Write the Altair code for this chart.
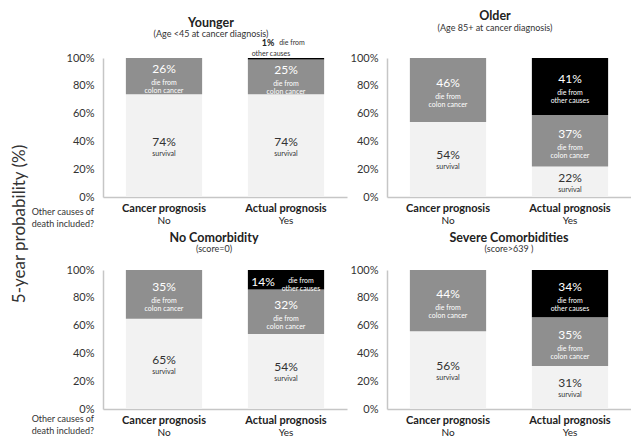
import altair as alt
import pandas as pd

# ---------------- data ----------------
panel_titles = ["Younger", "Older", "No Comorbidity", "Severe Comorbidities"]
panel_subtitles = ["(Age <45 at cancer diagnosis)", "(Age 85+ at cancer diagnosis)",
                   "(score=0)", "(score>639  )"]
prognosis = ["Cancer prognosis", "Actual prognosis"]
other_included = ["No", "Yes"]
segments = ["survival", "colon cancer", "other causes"]
segment_notes = ["survival", "die from\ncolon cancer", "die from\nother causes"]
question = "Other causes of\ndeath included?"
y_title = "5-year probability (%)"
y_ticks = [0, 20, 40, 60, 80, 100]

cancer_survival = [74, 54, 65, 56]
cancer_colon = [26, 46, 35, 44]
actual_survival = [74, 22, 54, 31]
actual_colon = [25, 37, 32, 35]
actual_other = [1, 41, 14, 34]

rows = []
for i, p in enumerate(panel_titles):
    bars_def = [
        (prognosis[0], other_included[0], [cancer_survival[i], cancer_colon[i]]),
        (prognosis[1], other_included[1], [actual_survival[i], actual_colon[i], actual_other[i]]),
    ]
    for prog, inc, vals in bars_def:
        start = 0
        for k, v in enumerate(vals):
            rows.append(dict(panel=p, prognosis=prog, included=inc, segment=segments[k],
                             note=segment_notes[k], value=v, start=start, end=start + v,
                             mid=start + v / 2))
            start += v
df = pd.DataFrame(rows)

# ---------------- style ----------------
W, H = 244, 139
FONT = "Lato"
seg_colors = ["#f2f2f2", "#8f8f8f", "#000000"]
AXIS_GRAY = "#c6c6c6"
DARK = "#333333"
title_dx = [-14, -14, -11, 0]
title_offset = [0, 19.5, 10, 10]


def panel(i, left, row):
    d = df[df.panel == panel_titles[i]]
    base = alt.Chart(d)
    xaxis = alt.Axis(labels=False, ticks=False, title=None, domainColor=AXIS_GRAY,
                     domainWidth=1.5, grid=False)
    yaxis = alt.Axis(values=y_ticks, labelExpr="datum.value + '%'", ticks=False, grid=False,
                     title=None, domainColor=AXIS_GRAY, domainWidth=1.5, labelPadding=9,
                     labelFont=FONT, labelFontSize=11, labelColor=DARK)
    xs = alt.Scale(domain=prognosis, paddingInner=0.375, paddingOuter=0.1875)
    ys = alt.Scale(domain=[0, 100], nice=False)
    X = alt.X("prognosis:N", sort=prognosis, scale=xs, axis=xaxis)

    def Y(f):
        return alt.Y(f, scale=ys, axis=yaxis)

    bars = base.mark_bar().encode(
        x=X, y=Y("start:Q"), y2="end:Q",
        color=alt.Color("segment:N", scale=alt.Scale(domain=segments, range=seg_colors), legend=None),
    )
    tb = base.transform_calculate(pct="datum.value + '%'")
    big3 = tb.transform_filter("datum.value >= 20 && datum.segment != 'survival'")
    pct3 = big3.mark_text(font=FONT, fontSize=12, dy=-7, color="white").encode(
        x=X, y=Y("mid:Q"), text="pct:N")
    sub3 = big3.mark_text(font=FONT, fontSize=7, dy=7, lineBreak="\n", lineHeight=8,
                          baseline="middle", color="white").encode(
        x=X, y=Y("mid:Q"), text="note:N")
    surv = tb.transform_filter("datum.segment == 'survival'")
    pct2 = surv.mark_text(font=FONT, fontSize=12, dy=-4, color=DARK).encode(
        x=X, y=Y("mid:Q"), text="pct:N")
    sub2 = surv.mark_text(font=FONT, fontSize=7, dy=8, color=DARK).encode(
        x=X, y=Y("mid:Q"), text="note:N")
    mid_small = tb.transform_filter("datum.value >= 5 && datum.value < 20")
    pct_in = mid_small.mark_text(font=FONT, fontSize=12, dx=-23, dy=2, color="white").encode(
        x=X, y=Y("mid:Q"), text="pct:N")
    sub_in = mid_small.mark_text(font=FONT, fontSize=7, dx=15, dy=1, lineBreak="\n",
                                 lineHeight=8, baseline="middle", color="white").encode(
        x=X, y=Y("mid:Q"), text="note:N")
    tiny = tb.transform_filter("datum.value < 5").transform_calculate(
        l1="split(datum.note, '\\n')[0]", l2="split(datum.note, '\\n')[1]")
    pct_t = tiny.mark_text(font=FONT, fontSize=9, fontWeight="bold", dx=-18, dy=-15,
                           color="#222").encode(x=X, y=Y("end:Q"), text="pct:N")
    l1_t = tiny.mark_text(font=FONT, fontSize=7, dx=6, dy=-15, color="#333").encode(
        x=X, y=Y("end:Q"), text="l1:N")
    l2_t = tiny.mark_text(font=FONT, fontSize=7, dx=-15, dy=-4, color="#333").encode(
        x=X, y=Y("end:Q"), text="l2:N")

    lab = base.transform_filter("datum.segment == 'survival'")
    xl1 = lab.mark_text(font=FONT, fontSize=11, fontWeight="bold", color="#222").encode(
        x=X, y=alt.value(H + 12), text="prognosis:N")
    xl2 = lab.mark_text(font=FONT, fontSize=10, color="#222").encode(
        x=X, y=alt.value(H + 24), text="included:N")

    layers = [bars, pct3, sub3, pct2, sub2, pct_in, sub_in, pct_t, l1_t, l2_t, xl1, xl2]
    if left:
        qy = H + 11 if row == 0 else H + 6
        q = alt.Chart(pd.DataFrame({"q": [question]})).mark_text(
            font=FONT, fontSize=9, align="right", baseline="top", lineBreak="\n",
            lineHeight=12, color=DARK).encode(x=alt.value(-9), y=alt.value(qy), text="q:N")
        layers.append(q)

    return alt.layer(*layers).properties(
        width=W, height=H,
        title=alt.TitleParams(
            text=panel_titles[i], subtitle=panel_subtitles[i], anchor="middle", frame="group",
            font=FONT, fontSize=12.5, fontWeight="bold", color="#222",
            subtitleFont=FONT, subtitleFontSize=9, subtitleColor=DARK, subtitlePadding=1,
            offset=title_offset[i], dx=title_dx[i]),
    )


top = alt.hconcat(panel(0, True, 0), panel(1, False, 0), spacing=3)
bottom = alt.hconcat(panel(2, True, 1), panel(3, False, 1), spacing=3)
chart = alt.vconcat(top, bottom, spacing=2).properties(
    title=alt.TitleParams(y_title, orient="left", anchor="middle", font=FONT, fontSize=17,
                          fontWeight="normal", color=DARK, offset=2),
    padding={"left": 3, "top": 2, "right": 0, "bottom": 0},
).configure_view(stroke=None)

chart.save("out.html", embed_options={"renderer": "svg", "actions": False})
